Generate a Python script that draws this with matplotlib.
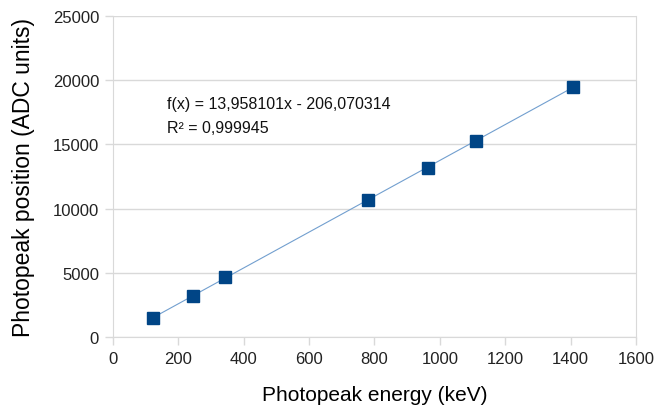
import numpy as np
import matplotlib
matplotlib.use('Agg')
import matplotlib.pyplot as plt

plt.rcParams['font.family'] = ['Liberation Sans', 'DejaVu Sans']

energy = [121.78, 244.7, 344.28, 778.9, 964.08, 1112.1, 1408.0]
position = [1490, 3220, 4650, 10700, 13200, 15250, 19450]

slope = 13.958101
intercept = -206.070314

grid_col = '#d9d9d9'

fig = plt.figure(figsize=(6.68, 4.10), dpi=100)
ax = fig.add_axes([0.169, 0.1756, 0.783, 0.7829])

# trend line + points
xs = np.array([min(energy), max(energy)])
ax.plot(xs, slope * xs + intercept, color='#729fcf', lw=0.8, zorder=2)
ax.plot(energy, position, 's', color='#004586', markersize=8, zorder=3)

ax.set_xlim(0, 1600)
ax.set_ylim(0, 25000)
ax.set_xticks(np.arange(0, 1601, 200))
ax.set_yticks(np.arange(0, 25001, 5000))
ax.grid(axis='y', color=grid_col, lw=1)
ax.set_axisbelow(True)
for s in ['left', 'bottom', 'right']:
    ax.spines[s].set_color(grid_col)
ax.spines['top'].set_visible(False)
ax.tick_params(colors=grid_col, labelcolor='#222222', labelsize=12, length=6, width=1, pad=4)

ax.set_xlabel('Photopeak energy (keV)', fontsize=15, labelpad=14)
ax.set_ylabel('Photopeak position (ADC units)', fontsize=16.5, labelpad=13)

ax.text(165, 18224, 'f(x) = 13,958101x - 206,070314',
        fontsize=11.5, va='center', ha='left', color='#111111')
ax.text(165, 16355, 'R² = 0,999945',
        fontsize=11.5, va='center', ha='left', color='#111111')

plt.savefig('out.png', dpi=100)
